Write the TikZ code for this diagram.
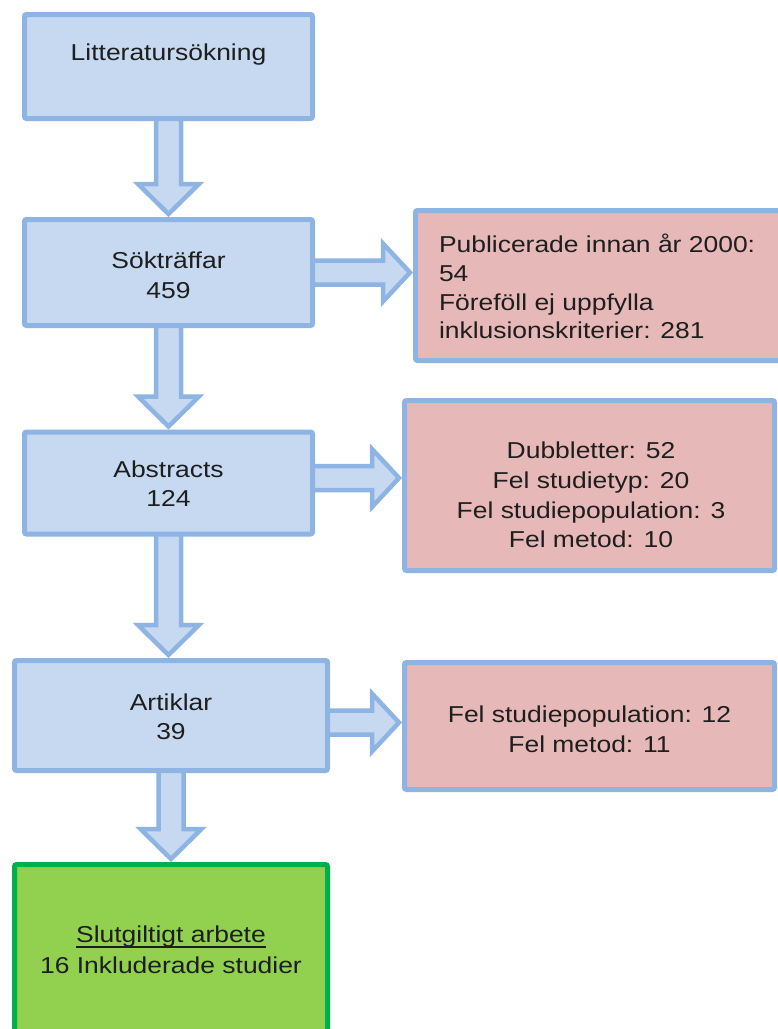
\documentclass[tikz,border=0pt]{standalone}
\usepackage{fontspec}
\setmainfont{Liberation Sans}[FakeStretch=1.15]
\usetikzlibrary{calc,backgrounds}
\definecolor{bfill}{HTML}{C6D9F1}
\definecolor{bline}{HTML}{8EB4E3}
\definecolor{pfill}{HTML}{E6B9B8}
\definecolor{gfill}{HTML}{92D050}
\definecolor{gline}{HTML}{00B050}
\definecolor{tcol}{HTML}{1E1E1E}
\newcommand\vblock[2]{%
  \coordinate (vs) at (#1.south);
  \coordinate (vt) at (#1.south |- #2.north);
  \draw[blk] ($(vs)+(-12.5,-5)$) -- ($(vt)+(-12.5,-33)$) -- ($(vt)+(-30.5,-33)$)
    -- ($(vt)+(0,-3)$) -- ($(vt)+(30.5,-33)$) -- ($(vt)+(12.5,-33)$)
    -- ($(vs)+(12.5,-5)$) -- cycle;}
\newcommand\hblock[3]{%
  \coordinate (hs) at ($(#1.east)+(0,#3)$);
  \coordinate (ht) at (#2.west |- hs);
  \draw[blk] ($(hs)+(-5,-12)$) -- ($(ht)+(-30,-12)$) -- ($(ht)+(-30,-29)$)
    -- ($(ht)+(-3,0)$) -- ($(ht)+(-30,29)$) -- ($(ht)+(-30,12)$)
    -- ($(hs)+(-5,12)$) -- cycle;}
\begin{document}
\begin{tikzpicture}[x=1pt,y=-1pt,
  box/.style={draw=bline,line width=5pt,rounded corners=2pt,inner sep=0pt,outer sep=2.5pt},
  bluebox/.style={box,fill=bfill},
  pinkbox/.style={box,fill=pfill},
  greenbox/.style={box,draw=gline,fill=gfill},
  blk/.style={draw=bline,fill=bfill,line width=4.5pt,line join=miter},
  txt/.style={inner sep=0pt,outer sep=0pt,text=tcol,font=\fontsize{23}{29.5}\selectfont}]
\useasboundingbox (0,0) rectangle (778,1029);
\clip (0,0) rectangle (778,1029);
% boxes
\node[bluebox,minimum width=288pt,minimum height=104pt] (b1) at (168.5,66.5) {};
\node[bluebox,minimum width=288pt,minimum height=106pt] (b2) at (168.5,272.5) {};
\node[bluebox,minimum width=288pt,minimum height=102pt] (b3) at (168.5,483) {};
\node[bluebox,minimum width=313pt,minimum height=110pt] (b4) at (171,715.5) {};
\node[greenbox,minimum width=313pt,minimum height=178pt] (g) at (171,953.5) {};
\node[pinkbox,minimum width=365pt,minimum height=150pt] (r1) at (598,285.5) {};
\node[pinkbox,minimum width=370pt,minimum height=170pt] (r2) at (589.5,485.5) {};
\node[pinkbox,minimum width=370pt,minimum height=127pt] (r3) at (589.5,726) {};
% arrows
\begin{scope}[on background layer]
\vblock{b1}{b2}
\vblock{b2}{b3}
\vblock{b3}{b4}
\vblock{b4}{g}
\hblock{b2}{r1}{0}
\hblock{b3}{r2}{-5}
\hblock{b4}{r3}{7}
\end{scope}
% texts
\node[txt,anchor=base] (t1) at (168.5,60) {Litteratursökning};
\node[txt,anchor=base] (t2a) at (168.5,268) {Sökträffar};
\node[txt,anchor=base] (t2b) at (168.5,298) {459};
\node[txt,anchor=base] (t3a) at (168.5,477) {Abstracts};
\node[txt,anchor=base] (t3b) at (168.5,506) {124};
\node[txt,anchor=base] (t4a) at (171,710) {Artiklar};
\node[txt,anchor=base] (t4b) at (171,739) {39};
\node[txt,anchor=base] (t5a) at (171,942) {Slutgiltigt arbete};
\node[txt,anchor=base] (t5b) at (171,973) {16 Inkluderade studier};
\draw[tcol,line width=1.8pt] ([yshift=-5pt]t5a.base west) -- ([yshift=-5pt]t5a.base east);
\node[txt,anchor=base west] (r1a) at (439,252) {Publicerade innan år 2000:};
\node[txt,anchor=base west] (r1b) at (439,281) {54};
\node[txt,anchor=base west] (r1c) at (439,310) {Föreföll ej uppfylla};
\node[txt,anchor=base west] (r1d) at (439,338) {inklusionskriterier: 281};
\node[txt,anchor=base] (r2a) at (591,458.5) {Dubbletter: 52};
\node[txt,anchor=base] (r2b) at (591,488.5) {Fel studietyp: 20};
\node[txt,anchor=base] (r2c) at (591,518) {Fel studiepopulation: 3};
\node[txt,anchor=base] (r2d) at (591,547.5) {Fel metod: 10};
\node[txt,anchor=base] (r3a) at (589.5,722) {Fel studiepopulation: 12};
\node[txt,anchor=base] (r3b) at (589.5,752) {Fel metod: 11};
\end{tikzpicture}
\end{document}
